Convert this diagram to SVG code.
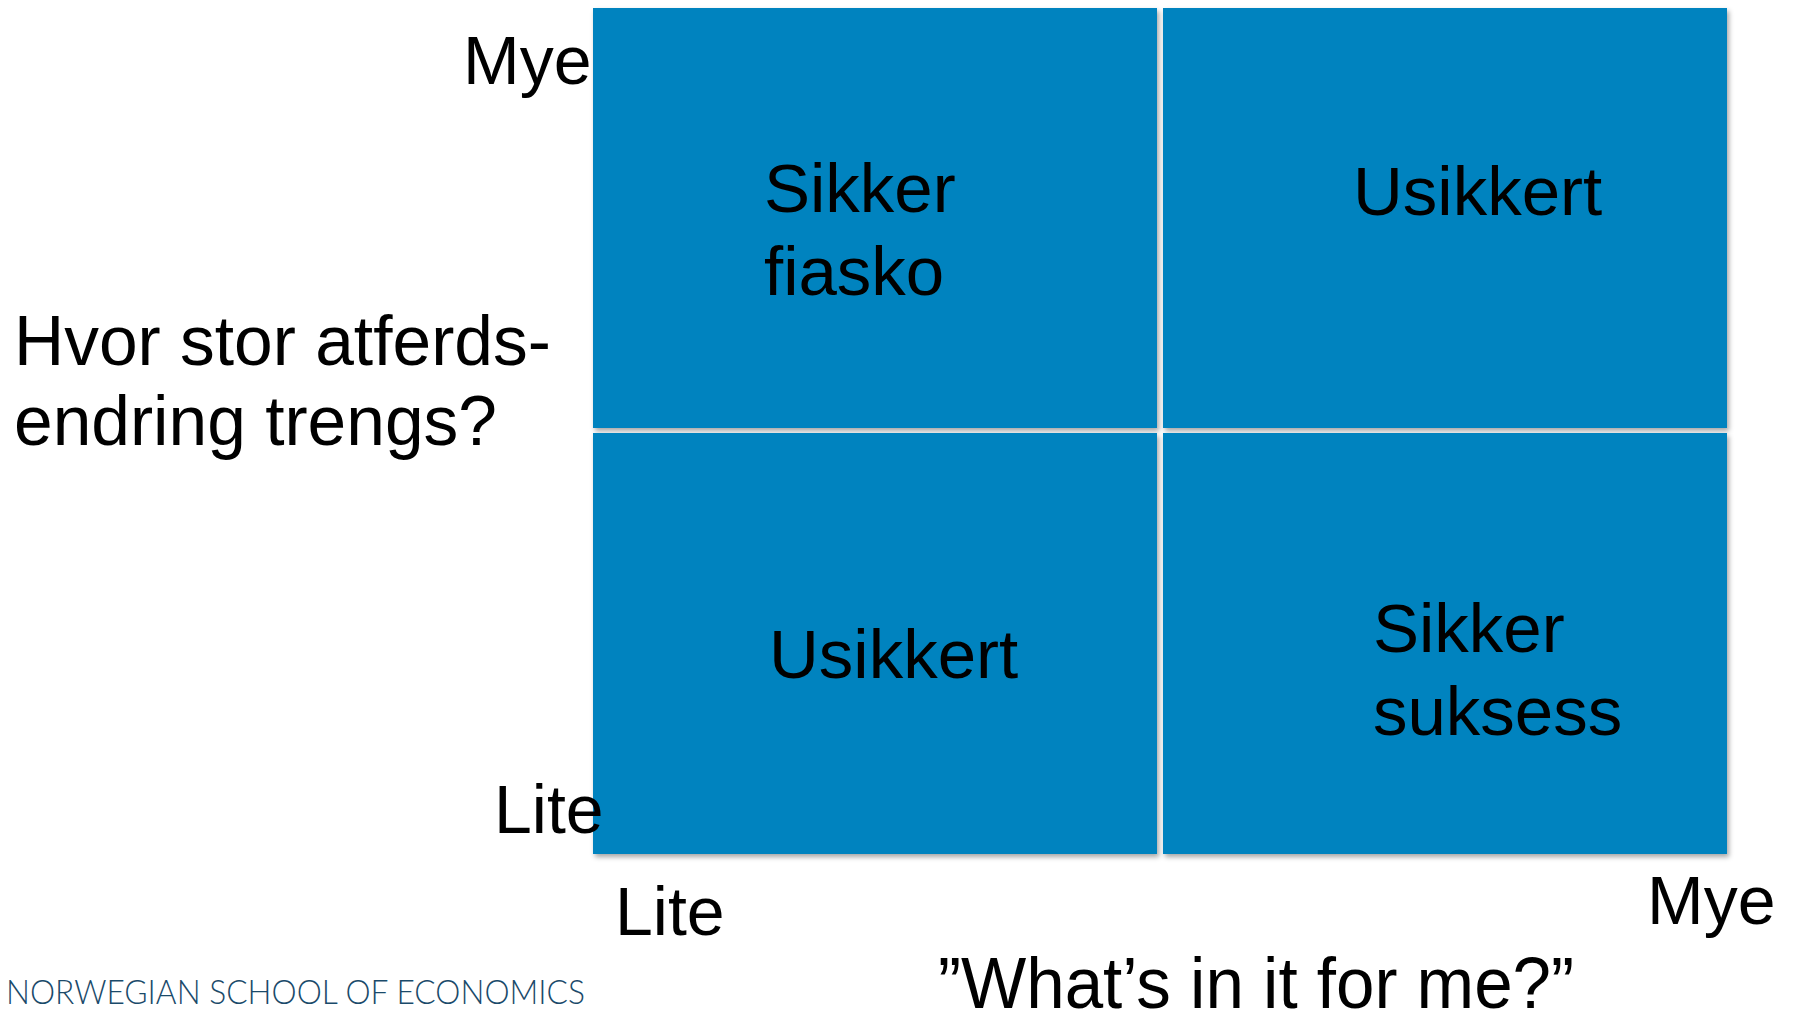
<svg xmlns="http://www.w3.org/2000/svg" width="1798" height="1014" viewBox="0 0 1798 1014">
<defs>
<filter id="sh" x="-5%" y="-5%" width="110%" height="110%">
<feDropShadow dx="2" dy="3" stdDeviation="2.5" flood-color="#000" flood-opacity="0.35"/>
</filter>
</defs>
<style>
.q{fill:#0083BF;filter:url(#sh)}
.t{font-family:"Liberation Sans",Arial,sans-serif;font-size:69px;fill:#000}
.f{font-family:Lato,"Open Sans",sans-serif;font-weight:300;font-size:33px;fill:#1A4A6A}
</style>
<rect width="1798" height="1014" fill="#fff"/>
<g id="q-tl"><rect class="q" x="593" y="8" width="564" height="420"/>
<text class="t" x="764" y="212">Sikker</text><text class="t" x="764" y="295">fiasko</text></g>
<g id="q-tr"><rect class="q" x="1163" y="8" width="564" height="420"/>
<text class="t" x="1353" y="215">Usikkert</text></g>
<g id="q-bl"><rect class="q" x="593" y="433" width="564" height="421"/>
<text class="t" x="769" y="678">Usikkert</text></g>
<g id="q-br"><rect class="q" x="1163" y="433" width="564" height="421"/>
<text class="t" x="1373" y="652">Sikker</text><text class="t" x="1373" y="735">suksess</text></g>
<g id="axis-y">
<text class="t" x="463" y="84" style="font-size:68px">Mye</text>
<text class="t" x="494" y="833" style="font-size:68px">Lite</text>
<text class="t" x="14" y="365" style="font-size:69.5px">Hvor stor atferds-</text>
<text class="t" x="14" y="445" style="font-size:69.5px">endring trengs?</text>
</g>
<g id="axis-x">
<text class="t" x="615" y="935" style="font-size:68px">Lite</text>
<text class="t" x="1647" y="924" style="font-size:68px">Mye</text>
<text class="t" x="938" y="1008" style="font-size:72px" textLength="636" lengthAdjust="spacingAndGlyphs">”What’s in it for me?”</text>
</g>
<text class="f" x="6" y="1004" textLength="579" lengthAdjust="spacingAndGlyphs">NORWEGIAN SCHOOL OF ECONOMICS</text>
</svg>
